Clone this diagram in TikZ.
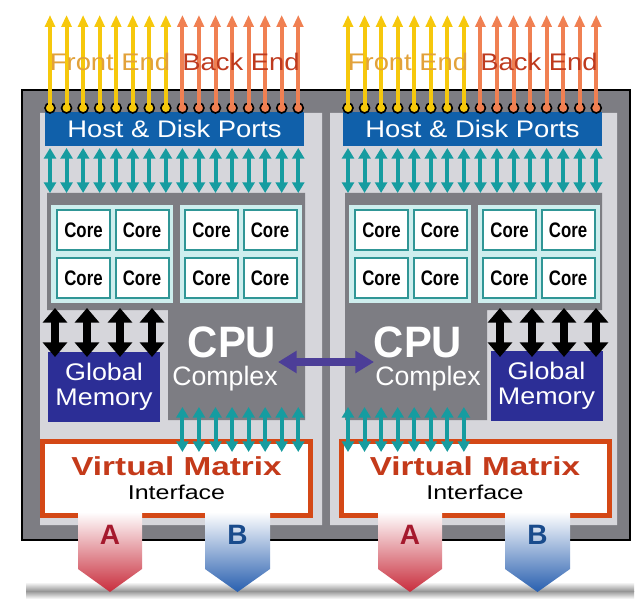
\documentclass[tikz,border=0pt]{standalone}
\usepackage{fontspec}
\setmainfont{Liberation Sans}
\usepackage{graphicx}
\usetikzlibrary{arrows.meta,positioning}

\definecolor{framegray}{RGB}{125,125,131}
\definecolor{panelgray}{RGB}{214,214,219}
\definecolor{portblue}{RGB}{16,96,170}
\definecolor{frontyellow}{RGB}{246,200,12}
\definecolor{backsalmon}{RGB}{240,128,82}
\definecolor{frontgold}{RGB}{226,162,58}
\definecolor{backred}{RGB}{190,58,30}
\definecolor{busteal}{RGB}{22,156,160}
\definecolor{groupcyan}{RGB}{206,238,238}
\definecolor{coreteal}{RGB}{48,150,150}
\definecolor{gmblue}{RGB}{44,46,150}
\definecolor{linkpurple}{RGB}{76,62,152}
\definecolor{vmorange}{RGB}{212,72,22}
\definecolor{vmred}{RGB}{196,58,26}
\definecolor{ared}{RGB}{200,45,60}
\definecolor{atext}{RGB}{165,25,45}
\definecolor{bblue}{RGB}{40,95,175}
\definecolor{btext}{RGB}{25,75,140}
\definecolor{shadowgray}{RGB}{150,150,150}

\newcommand{\wide}[2]{\scalebox{#1}[1]{#2}}
\newcommand{\coreword}{\scalebox{0.8}[1]{Core}}

\begin{document}
\begin{tikzpicture}[x=0.75pt, y=-0.75pt,
  every node/.style={inner sep=0pt, outer sep=0pt},
  hostbar/.style={fill=portblue, minimum width=194.25pt, minimum height=25.5pt, text=white, font=\fontsize{18}{20}\selectfont},
  endlabel/.style={font=\fontsize{18}{20}\selectfont},
  coregroup/.style={fill=groupcyan, minimum width=91.5pt, minimum height=73.5pt},
  core/.style={draw=coreteal, line width=1.5pt, fill=white, minimum width=39.75pt, minimum height=30pt, font=\bfseries\fontsize{15.75}{16}\selectfont},
  gmbox/.style={fill=gmblue, minimum width=84pt, minimum height=52.5pt, text=white, align=center, font=\fontsize{18}{18.75}\selectfont},
  cpulabel/.style={text=white, font=\bfseries\fontsize{33}{34}\selectfont},
  cpusub/.style={text=white, font=\fontsize{20}{22}\selectfont},
  vmbox/.style={draw=vmorange, line width=3.75pt, fill=white, minimum width=201pt, minimum height=55.5pt},
  vmtitle/.style={text=vmred, font=\bfseries\fontsize{19.5}{20}\selectfont},
  vmsub/.style={font=\fontsize{15}{16}\selectfont},
  outletter/.style={font=\bfseries\fontsize{21}{22}\selectfont},
  portdot/.style={draw=black, line width=1.2pt},
  upbus/.style={line width=3pt, -{Triangle[width=7.5pt,length=9pt]}},
  dblbus/.style={busteal, line width=3pt, {Triangle[width=9pt,length=8pt]}-{Triangle[width=9pt,length=8pt]}},
  membus/.style={black, line width=6pt, {Triangle[width=18pt,length=11pt]}-{Triangle[width=18pt,length=11pt]}},
  cpulink/.style={linkpurple, line width=6pt, {Triangle[width=16pt,length=14pt]}-{Triangle[width=16pt,length=14pt]}}]
\useasboundingbox (0,0) rectangle (638,609);
\fill[white] (0,0) rectangle (638,609);

%shadow
\shade[top color=white, bottom color=shadowgray] (26,582) rectangle (634,591);
\shade[top color=shadowgray, bottom color=white] (26,591) rectangle (634,599);

%frame and panels
\draw[line width=2pt, fill=framegray] (22,90) rectangle (630,540);
\fill[panelgray] (40,113) rectangle (322,525) (330,113) rectangle (617,525);

%cpu complex areas
\fill[framegray] (47,193) -- (305,193) -- (305,420) -- (168,420) -- (168,310) -- (47,310) -- cycle;
\fill[framegray] (345,193) -- (602,193) -- (602,310) -- (487,310) -- (487,420) -- (345,420) -- cycle;

%host & disk ports
\node[hostbar] (portsL) at (174.5,129) {\wide{1.14}{Host \& Disk Ports}};
\node[hostbar] (portsR) at (472.5,129) {\wide{1.14}{Host \& Disk Ports}};

%front end / back end
\foreach \s in {0,298}{
  \foreach \i [evaluate=\i as \x using \s+50+16.55*\i] in {0,...,7}{
    \draw[portdot, fill=frontyellow] (\x,108) circle (3.75pt);
    \draw[upbus, frontyellow] (\x,106) -- (\x,15);}
  \foreach \i [evaluate=\i as \x using \s+50+16.55*\i] in {8,...,15}{
    \draw[portdot, fill=backsalmon] (\x,108) circle (3.75pt);
    \draw[upbus, backsalmon] (\x,106) -- (\x,15);}
}
\node[endlabel, text=frontgold] (frontL) at (110,62) {\wide{1.14}{Front End}};
\node[endlabel, text=backred] (backL) at (241,62) {\wide{1.14}{Back End}};
\node[endlabel, text=frontgold] (frontR) at (408,62) {\wide{1.14}{Front End}};
\node[endlabel, text=backred] (backR) at (539,62) {\wide{1.14}{Back End}};

%ports to cores
\foreach \i [evaluate=\i as \x using 50+16.55*\i] in {0,...,15}{
  \draw[dblbus] (\x,148) -- (\x,193);}
\foreach \i [evaluate=\i as \x using 348+16.55*\i] in {0,...,15}{
  \draw[dblbus] (\x,148) -- (\x,193);}

%cores
\node[coregroup] (groupL1) at (111.5,254) {};
\node[coregroup] (groupL2) at (240.5,254) {};
\node[coregroup] (groupR1) at (409.5,254) {};
\node[coregroup] (groupR2) at (538.5,254) {};
\foreach \s in {0,298}
  \foreach \cx [count=\c] in {83.5,142,211.5,270}
    \foreach \cy [count=\r] in {230,278}
      \node[core] (core\s-\c\r) at (\s+\cx,\cy) {\coreword};

%global memory
\node[gmbox] (gmL) at (104,387) {\wide{1.12}{Global}\\\wide{1.12}{Memory}};
\node[gmbox] (gmR) at (546.5,386) {\wide{1.12}{Global}\\\wide{1.12}{Memory}};
\foreach \x in {55,87,120,152,500,532,564,596}
  \draw[membus] (\x,308) -- (\x,357);

%cpu complex
\node[cpulabel] (cpuL) at (232,342) {\wide{0.95}{CPU}};
\node[cpusub] (complexL) at (225,379) {Complex};
\node[cpulabel] (cpuR) at (418,342) {\wide{0.95}{CPU}};
\node[cpusub] (complexR) at (428,379) {Complex};
\coordinate (linkL) at (278,362);
\coordinate (linkR) at (374,362);
\draw[cpulink] (linkL) -- (linkR);

%virtual matrix
\node[vmbox] (vmL) at (176.5,478.5) {};
\node[vmbox] (vmR) at (475,478.5) {};
\node[vmtitle] (vmtitleL) at (176.5,466.5) {\wide{1.28}{Virtual Matrix}};
\node[vmsub] (vmsubL) at (176.5,492.5) {\wide{1.25}{Interface}};
\node[vmtitle] (vmtitleR) at (475,466.5) {\wide{1.28}{Virtual Matrix}};
\node[vmsub] (vmsubR) at (475,492.5) {\wide{1.25}{Interface}};
\foreach \i [evaluate=\i as \x using 50+16.55*\i] in {8,...,15}
  \draw[dblbus] (\x,407) -- (\x,452);
\foreach \i [evaluate=\i as \x using 298+50+16.55*\i] in {0,...,7}
  \draw[dblbus] (\x,407) -- (\x,452);

%A and B outlets
\shade[top color=white, bottom color=ared] (78,512) -- (142,512) -- (142,569) -- (110,592) -- (78,569) -- cycle;
\shade[top color=white, bottom color=bblue] (205,512) -- (270,512) -- (270,569) -- (237.5,592) -- (205,569) -- cycle;
\shade[top color=white, bottom color=ared] (378,512) -- (442,512) -- (442,569) -- (410,592) -- (378,569) -- cycle;
\shade[top color=white, bottom color=bblue] (505,512) -- (570,512) -- (570,569) -- (537.5,592) -- (505,569) -- cycle;
\node[outletter, text=atext] (outAL) at (110,535) {A};
\node[outletter, text=btext] (outBL) at (237.5,535) {B};
\node[outletter, text=atext] (outAR) at (410,535) {A};
\node[outletter, text=btext] (outBR) at (537.5,535) {B};
\end{tikzpicture}
\end{document}
